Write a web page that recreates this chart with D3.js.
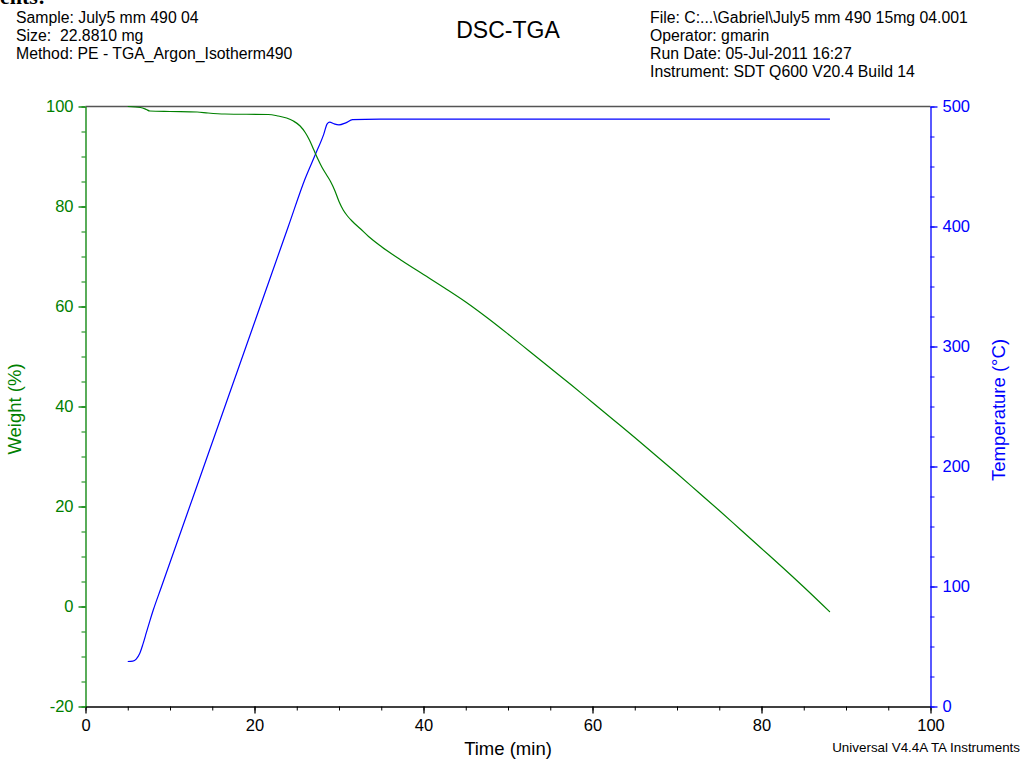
<!DOCTYPE html>
<html>
<head>
<meta charset="utf-8">
<script src="https://cdn.jsdelivr.net/npm/d3@7"></script>
<style>
  html, body { margin: 0; padding: 0; background: #fff; }
  svg { display: block; font-family: "Liberation Sans", Arial, sans-serif; }
</style>
</head>
<body>
<svg id="chart" width="1021" height="761"></svg>
<script>
// TGA run: time (min), weight (%) and sample temperature (°C)
const weightTime = [5.0, 6.5, 7.2, 7.6, 10, 13.2, 14.5, 16.5, 21.6, 22.8, 23.8, 24.6, 25.4, 26.0, 26.5, 27.0, 27.5, 28.0, 28.5, 29.0, 29.5, 30.0, 30.5, 31.0, 31.6, 32.5, 33.5, 35, 37.5, 40, 42.5, 45, 47.5, 50, 52.5, 55, 57.5, 60, 62.5, 65, 67.5, 70, 72.5, 75, 77.5, 80, 82.5, 85, 88.1];
const weightPct  = [100.0, 99.8, 99.4, 99.1, 99.0, 98.9, 98.7, 98.5, 98.4, 98.1, 97.7, 97.1, 96.1, 94.8, 93.3, 91.4, 89.5, 87.8, 86.4, 85.0, 83.2, 81.0, 79.3, 78.1, 77.0, 75.6, 74.0, 72.0, 69.1, 66.4, 63.7, 60.9, 57.8, 54.5, 51.1, 47.7, 44.3, 40.8, 37.3, 33.8, 30.2, 26.6, 22.9, 19.2, 15.4, 11.6, 7.8, 3.9, -1.1];

const tempTime = [5.0, 5.6, 6.0, 6.4, 6.8, 7.2, 7.6, 8.0, 9, 10, 12, 14, 16, 18, 20, 22, 24, 26, 27.2, 28.2, 28.6, 28.9, 29.4, 30.0, 30.8, 31.6, 34.9, 40, 60, 88.1];
const tempC    = [37.5, 37.8, 39.5, 43.9, 52, 61.5, 71, 80, 100, 120, 160, 200, 240, 280, 320, 360, 400, 440, 460, 477, 485.6, 487, 485.6, 484.7, 486.4, 489, 489.4, 489.5, 489.5, 489.5];

// Axis ticks
const timeTicks   = [0, 20, 40, 60, 80, 100];
const weightTicks = [-20, 0, 20, 40, 60, 80, 100];
const tempTicks   = [0, 100, 200, 300, 400, 500];

// Header text
const titleText = "DSC-TGA";
const infoLeft  = ["Sample: July5 mm 490 04", "Size:  22.8810 mg", "Method: PE - TGA_Argon_Isotherm490"];
const infoRight = ["File: C:...\\Gabriel\\July5 mm 490 15mg 04.001", "Operator: gmarin", "Run Date: 05-Jul-2011 16:27", "Instrument: SDT Q600 V20.4 Build 14"];
const footerText = "Universal V4.4A TA Instruments";

const GREEN = "#008000", BLUE = "#0000ff";
const TICK_FONT = 16.5;
const fmt = d => String(d);   // plain hyphen for negatives
const svg = d3.select("#chart");

const x  = d3.scaleLinear().domain([0, 100]).range([85.5, 930.5]);
const yW = d3.scaleLinear().domain([-20, 100]).range([706.5, 106.5]);
const yT = d3.scaleLinear().domain([0, 500]).range([706.5, 106.5]);

// top frame line
svg.append("line")
  .attr("x1", x(0)).attr("x2", x(100))
  .attr("y1", yW(100)).attr("y2", yW(100))
  .attr("stroke", "#555").attr("stroke-width", 1.3);

function minorTicks(lo, hi, step) {
  return d3.range(lo, hi + step / 2, step);
}

// bottom axis
const xAxisG = svg.append("g").attr("transform", `translate(0,${yW(-20)})`);
xAxisG.append("g")
  .call(d3.axisBottom(x).tickValues(minorTicks(0, 100, 5)).tickSize(4).tickFormat(""))
  .call(g => g.select(".domain").remove());
xAxisG.append("g")
  .call(d3.axisBottom(x).tickValues(timeTicks).tickSize(7).tickSizeOuter(0).tickPadding(5).tickFormat(fmt))
  .call(g => g.select(".domain").attr("stroke", "#000").attr("stroke-width", 1.3))
  .call(g => g.selectAll("line").attr("stroke", "#000").attr("stroke-width", 1.3))
  .call(g => g.selectAll("text").attr("font-size", TICK_FONT).attr("fill", "#000")
    .attr("font-family", "Liberation Sans, Arial, sans-serif").attr("dy", "0.78em"));

// left (weight) axis
const yAxisL = svg.append("g").attr("transform", `translate(${x(0)},0)`);
yAxisL.append("g")
  .call(d3.axisLeft(yW).tickValues(minorTicks(-20, 100, 5)).tickSize(4).tickFormat(""))
  .call(g => g.select(".domain").remove())
  .call(g => g.selectAll("line").attr("stroke", GREEN));
yAxisL.append("g")
  .call(d3.axisLeft(yW).tickValues(weightTicks).tickSize(7).tickSizeOuter(0).tickPadding(5).tickFormat(fmt))
  .call(g => g.select(".domain").attr("stroke", GREEN).attr("stroke-width", 1.3))
  .call(g => g.selectAll("line").attr("stroke", GREEN).attr("stroke-width", 1.3))
  .call(g => g.selectAll("text").attr("font-size", TICK_FONT).attr("fill", GREEN)
    .attr("font-family", "Liberation Sans, Arial, sans-serif"));

// right (temperature) axis
const yAxisR = svg.append("g").attr("transform", `translate(${x(100)},0)`);
yAxisR.append("g")
  .call(d3.axisRight(yT).tickValues(minorTicks(0, 500, 25)).tickSize(4).tickFormat(""))
  .call(g => g.select(".domain").remove())
  .call(g => g.selectAll("line").attr("stroke", BLUE));
yAxisR.append("g")
  .call(d3.axisRight(yT).tickValues(tempTicks).tickSize(7).tickSizeOuter(0).tickPadding(5).tickFormat(fmt))
  .call(g => g.select(".domain").attr("stroke", BLUE).attr("stroke-width", 1.3))
  .call(g => g.selectAll("line").attr("stroke", BLUE).attr("stroke-width", 1.3))
  .call(g => g.selectAll("text").attr("font-size", TICK_FONT).attr("fill", BLUE)
    .attr("font-family", "Liberation Sans, Arial, sans-serif"));

// curves
const weightData = weightTime.map((t, i) => [t, weightPct[i]]);
const tempData = tempTime.map((t, i) => [t, tempC[i]]);

svg.append("path")
  .datum(tempData)
  .attr("fill", "none").attr("stroke", BLUE).attr("stroke-width", 1.2)
  .attr("d", d3.line().x(d => x(d[0])).y(d => yT(d[1])).curve(d3.curveMonotoneX));

svg.append("path")
  .datum(weightData)
  .attr("fill", "none").attr("stroke", GREEN).attr("stroke-width", 1.2)
  .attr("d", d3.line().x(d => x(d[0])).y(d => yW(d[1])).curve(d3.curveMonotoneX));

// axis titles
svg.append("text")
  .attr("x", (x(0) + x(100)) / 2).attr("y", 755)
  .attr("text-anchor", "middle").attr("font-size", 18.5).attr("fill", "#000")
  .text("Time (min)");

svg.append("text")
  .attr("transform", `translate(21,409) rotate(-90)`)
  .attr("text-anchor", "middle").attr("font-size", 18.5).attr("fill", GREEN)
  .text("Weight (%)");

svg.append("text")
  .attr("transform", `translate(1005,410) rotate(-90)`)
  .attr("text-anchor", "middle").attr("font-size", 18.5).attr("fill", BLUE)
  .text("Temperature (°C)");

// header
svg.append("text")
  .attr("x", 0).attr("y", 4)
  .attr("font-family", "Liberation Serif, Times New Roman, serif")
  .attr("font-weight", "bold").attr("font-size", 22).attr("fill", "#000")
  .text("ents:");

svg.append("text")
  .attr("x", 508).attr("y", 38)
  .attr("text-anchor", "middle").attr("font-size", 23).attr("fill", "#000")
  .text(titleText);

svg.append("g").selectAll("text").data(infoLeft).join("text")
  .attr("x", 16).attr("y", (d, i) => 23 + i * 18)
  .attr("font-size", 15.8).attr("fill", "#000")
  .attr("xml:space", "preserve").style("white-space", "pre")
  .text(d => d);

svg.append("g").selectAll("text").data(infoRight).join("text")
  .attr("x", 650).attr("y", (d, i) => 23 + i * 18)
  .attr("font-size", 15.8).attr("fill", "#000")
  .text(d => d);

svg.append("text")
  .attr("x", 1020).attr("y", 752)
  .attr("text-anchor", "end").attr("font-size", 13.4).attr("fill", "#000")
  .text(footerText);
</script>
</body>
</html>
